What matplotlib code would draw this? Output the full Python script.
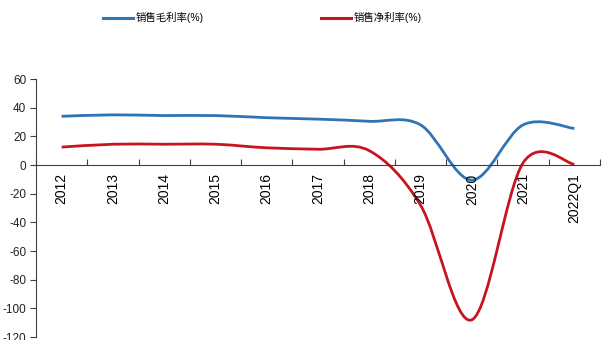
import numpy as np
import matplotlib
matplotlib.use('Agg')
import matplotlib.pyplot as plt
from matplotlib.path import Path
from matplotlib.patches import PathPatch
from matplotlib.lines import Line2D

plt.rcParams['font.family'] = ['Liberation Sans', 'Noto Sans CJK SC', 'DejaVu Sans']
plt.rcParams['axes.unicode_minus'] = False

categories = ['2012', '2013', '2014', '2015', '2016', '2017', '2018', '2019', '2020', '2021', '2022Q1']
gross_margin = [34, 35, 34.5, 34.5, 33, 32, 30.5, 28, -10.5, 28, 25.5]
net_margin = [12.5, 14.5, 14.5, 14.5, 12, 11, 10, -28, -108, 1.5, 0.5]
series_names = ['销售毛利率(%)', '销售净利率(%)']
colors = ['#2E75B6', '#C8141E']


def smooth_path(x, y):
    # excel-style smoothed line: catmull-rom segments as cubic beziers
    pts = np.column_stack([x, y]).astype(float)
    n = len(pts)
    verts = [pts[0]]
    codes = [Path.MOVETO]
    for i in range(n - 1):
        p0 = pts[i - 1] if i > 0 else pts[i]
        p1 = pts[i]
        p2 = pts[i + 1]
        p3 = pts[i + 2] if i + 2 < n else pts[i + 1]
        c1 = p1 + (p2 - p0) / 6.0
        c2 = p2 - (p3 - p1) / 6.0
        verts += [c1, c2, p2]
        codes += [Path.CURVE4] * 3
    return Path(verts, codes)


fig = plt.figure(figsize=(6.03, 3.40), dpi=100)
ax = fig.add_axes([0.0597, 0.0088, 0.9353, 0.7588])

x = np.arange(len(categories))
for vals, c in zip([gross_margin, net_margin], colors):
    patch = PathPatch(smooth_path(x, vals), facecolor='none', edgecolor=c, lw=2.0,
                      capstyle='butt', joinstyle='round')
    ax.add_patch(patch)

ax.set_xlim(-0.5, len(categories) - 0.5)
ax.set_ylim(-120, 60)
ax.set_yticks(np.arange(-120, 61, 20))
ax.tick_params(axis='y', labelsize=8.5, length=4, color='#404040', labelcolor='#222222', pad=3)

ax.set_xticks(np.arange(len(categories) + 1) - 0.5)
ax.set_xticklabels([])
ax.tick_params(axis='x', which='major', direction='in', length=4, color='#404040')
ax.set_xticks(x, minor=True)
ax.set_xticklabels(categories, minor=True, fontsize=8.5, color='#222222')
ax.tick_params(axis='x', which='minor', length=0, pad=6, labelrotation=90)

for s in ['top', 'right']:
    ax.spines[s].set_visible(False)
ax.spines['bottom'].set_position(('data', 0))
ax.spines['bottom'].set_color('#404040')
ax.spines['left'].set_color('#404040')

handles = [Line2D([], [], color=c, lw=2.2) for c in colors]
fig.legend(handles, series_names, loc='center', bbox_to_anchor=(0.435, 0.948), ncol=2,
           frameon=False, fontsize=7.5, handlelength=2.9, handletextpad=0.3, columnspacing=11.2)

fig.savefig('out.png', dpi=100)
